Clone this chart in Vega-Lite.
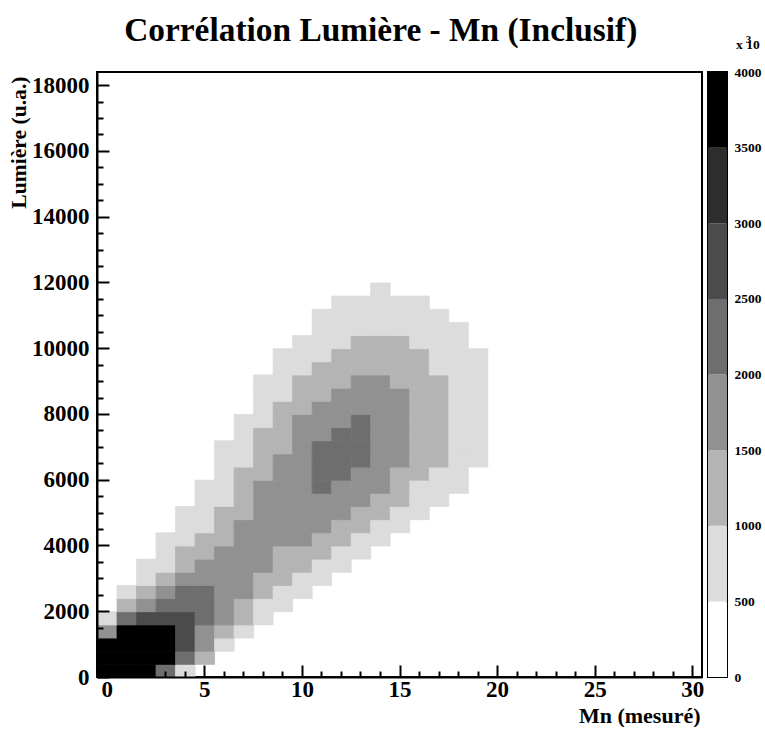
{"$schema":"https://vega.github.io/schema/vega-lite/v6.json","background":"white","padding":{"left":7,"top":13,"right":0,"bottom":0},
"title":{"text":"Corrélation Lumière - Mn (Inclusif)","font":"Liberation Serif","fontWeight":"bold","fontSize":33.4,"color":"black","anchor":"middle","dx":-4,"offset":-16},
"config":{"view":{"stroke":"black","strokeWidth":2},"font":"Liberation Serif"},
"datasets":{"cells":[
{"x":0,"y":200,"z":3750},{"x":1,"y":200,"z":3750},{"x":2,"y":200,"z":3750},{"x":3,"y":200,"z":2250},{"x":4,"y":200,"z":750},
{"x":0,"y":600,"z":3750},{"x":1,"y":600,"z":3750},{"x":2,"y":600,"z":3750},{"x":3,"y":600,"z":3750},{"x":4,"y":600,"z":2250},{"x":5,"y":600,"z":1250},
{"x":0,"y":1000,"z":3750},{"x":1,"y":1000,"z":3750},{"x":2,"y":1000,"z":3750},{"x":3,"y":1000,"z":3750},{"x":4,"y":1000,"z":2750},{"x":5,"y":1000,"z":1750},{"x":6,"y":1000,"z":750},
{"x":0,"y":1400,"z":1750},{"x":1,"y":1400,"z":3750},{"x":2,"y":1400,"z":3750},{"x":3,"y":1400,"z":3750},{"x":4,"y":1400,"z":2750},{"x":5,"y":1400,"z":1750},{"x":6,"y":1400,"z":1250},{"x":7,"y":1400,"z":750},
{"x":0,"y":1800,"z":750},{"x":1,"y":1800,"z":2250},{"x":2,"y":1800,"z":2750},{"x":3,"y":1800,"z":2750},{"x":4,"y":1800,"z":2750},{"x":5,"y":1800,"z":2250},{"x":6,"y":1800,"z":1750},{"x":7,"y":1800,"z":1250},{"x":8,"y":1800,"z":750},
{"x":1,"y":2200,"z":1250},{"x":2,"y":2200,"z":1750},{"x":3,"y":2200,"z":2250},{"x":4,"y":2200,"z":2250},{"x":5,"y":2200,"z":2250},{"x":6,"y":2200,"z":1750},{"x":7,"y":2200,"z":1250},{"x":8,"y":2200,"z":750},{"x":9,"y":2200,"z":750},
{"x":1,"y":2600,"z":750},{"x":2,"y":2600,"z":1250},{"x":3,"y":2600,"z":1750},{"x":4,"y":2600,"z":2250},{"x":5,"y":2600,"z":2250},{"x":6,"y":2600,"z":1750},{"x":7,"y":2600,"z":1750},{"x":8,"y":2600,"z":1250},{"x":9,"y":2600,"z":750},{"x":10,"y":2600,"z":750},
{"x":2,"y":3000,"z":750},{"x":3,"y":3000,"z":1250},{"x":4,"y":3000,"z":1750},{"x":5,"y":3000,"z":1750},{"x":6,"y":3000,"z":1750},{"x":7,"y":3000,"z":1750},{"x":8,"y":3000,"z":1250},{"x":9,"y":3000,"z":1250},{"x":10,"y":3000,"z":750},{"x":11,"y":3000,"z":750},
{"x":2,"y":3400,"z":750},{"x":3,"y":3400,"z":750},{"x":4,"y":3400,"z":1250},{"x":5,"y":3400,"z":1750},{"x":6,"y":3400,"z":1750},{"x":7,"y":3400,"z":1750},{"x":8,"y":3400,"z":1750},{"x":9,"y":3400,"z":1250},{"x":10,"y":3400,"z":1250},{"x":11,"y":3400,"z":750},{"x":12,"y":3400,"z":750},
{"x":3,"y":3800,"z":750},{"x":4,"y":3800,"z":1250},{"x":5,"y":3800,"z":1250},{"x":6,"y":3800,"z":1750},{"x":7,"y":3800,"z":1750},{"x":8,"y":3800,"z":1750},{"x":9,"y":3800,"z":1250},{"x":10,"y":3800,"z":1250},{"x":11,"y":3800,"z":1250},{"x":12,"y":3800,"z":750},{"x":13,"y":3800,"z":750},
{"x":3,"y":4200,"z":750},{"x":4,"y":4200,"z":750},{"x":5,"y":4200,"z":1250},{"x":6,"y":4200,"z":1250},{"x":7,"y":4200,"z":1750},{"x":8,"y":4200,"z":1750},{"x":9,"y":4200,"z":1750},{"x":10,"y":4200,"z":1750},{"x":11,"y":4200,"z":1250},{"x":12,"y":4200,"z":1250},{"x":13,"y":4200,"z":750},{"x":14,"y":4200,"z":750},
{"x":4,"y":4600,"z":750},{"x":5,"y":4600,"z":750},{"x":6,"y":4600,"z":1250},{"x":7,"y":4600,"z":1750},{"x":8,"y":4600,"z":1750},{"x":9,"y":4600,"z":1750},{"x":10,"y":4600,"z":1750},{"x":11,"y":4600,"z":1750},{"x":12,"y":4600,"z":1250},{"x":13,"y":4600,"z":1250},{"x":14,"y":4600,"z":750},{"x":15,"y":4600,"z":750},
{"x":4,"y":5000,"z":750},{"x":5,"y":5000,"z":750},{"x":6,"y":5000,"z":1250},{"x":7,"y":5000,"z":1250},{"x":8,"y":5000,"z":1750},{"x":9,"y":5000,"z":1750},{"x":10,"y":5000,"z":1750},{"x":11,"y":5000,"z":1750},{"x":12,"y":5000,"z":1750},{"x":13,"y":5000,"z":1250},{"x":14,"y":5000,"z":1250},{"x":15,"y":5000,"z":750},{"x":16,"y":5000,"z":750},
{"x":5,"y":5400,"z":750},{"x":6,"y":5400,"z":750},{"x":7,"y":5400,"z":1250},{"x":8,"y":5400,"z":1750},{"x":9,"y":5400,"z":1750},{"x":10,"y":5400,"z":1750},{"x":11,"y":5400,"z":1750},{"x":12,"y":5400,"z":1750},{"x":13,"y":5400,"z":1750},{"x":14,"y":5400,"z":1250},{"x":15,"y":5400,"z":1250},{"x":16,"y":5400,"z":750},{"x":17,"y":5400,"z":750},
{"x":5,"y":5800,"z":750},{"x":6,"y":5800,"z":750},{"x":7,"y":5800,"z":1250},{"x":8,"y":5800,"z":1750},{"x":9,"y":5800,"z":1750},{"x":10,"y":5800,"z":1750},{"x":11,"y":5800,"z":2250},{"x":12,"y":5800,"z":1750},{"x":13,"y":5800,"z":1750},{"x":14,"y":5800,"z":1750},{"x":15,"y":5800,"z":1250},{"x":16,"y":5800,"z":750},{"x":17,"y":5800,"z":750},{"x":18,"y":5800,"z":750},
{"x":6,"y":6200,"z":750},{"x":7,"y":6200,"z":1250},{"x":8,"y":6200,"z":1250},{"x":9,"y":6200,"z":1750},{"x":10,"y":6200,"z":1750},{"x":11,"y":6200,"z":2250},{"x":12,"y":6200,"z":2250},{"x":13,"y":6200,"z":1750},{"x":14,"y":6200,"z":1750},{"x":15,"y":6200,"z":1250},{"x":16,"y":6200,"z":1250},{"x":17,"y":6200,"z":750},{"x":18,"y":6200,"z":750},
{"x":6,"y":6600,"z":750},{"x":7,"y":6600,"z":750},{"x":8,"y":6600,"z":1250},{"x":9,"y":6600,"z":1750},{"x":10,"y":6600,"z":1750},{"x":11,"y":6600,"z":2250},{"x":12,"y":6600,"z":2250},{"x":13,"y":6600,"z":2250},{"x":14,"y":6600,"z":1750},{"x":15,"y":6600,"z":1750},{"x":16,"y":6600,"z":1250},{"x":17,"y":6600,"z":1250},{"x":18,"y":6600,"z":750},{"x":19,"y":6600,"z":750},
{"x":6,"y":7000,"z":750},{"x":7,"y":7000,"z":750},{"x":8,"y":7000,"z":1250},{"x":9,"y":7000,"z":1250},{"x":10,"y":7000,"z":1750},{"x":11,"y":7000,"z":2250},{"x":12,"y":7000,"z":2250},{"x":13,"y":7000,"z":2250},{"x":14,"y":7000,"z":1750},{"x":15,"y":7000,"z":1750},{"x":16,"y":7000,"z":1250},{"x":17,"y":7000,"z":1250},{"x":18,"y":7000,"z":750},{"x":19,"y":7000,"z":750},
{"x":7,"y":7400,"z":750},{"x":8,"y":7400,"z":1250},{"x":9,"y":7400,"z":1250},{"x":10,"y":7400,"z":1750},{"x":11,"y":7400,"z":1750},{"x":12,"y":7400,"z":2250},{"x":13,"y":7400,"z":2250},{"x":14,"y":7400,"z":1750},{"x":15,"y":7400,"z":1750},{"x":16,"y":7400,"z":1250},{"x":17,"y":7400,"z":1250},{"x":18,"y":7400,"z":750},{"x":19,"y":7400,"z":750},
{"x":7,"y":7800,"z":750},{"x":8,"y":7800,"z":750},{"x":9,"y":7800,"z":1250},{"x":10,"y":7800,"z":1750},{"x":11,"y":7800,"z":1750},{"x":12,"y":7800,"z":1750},{"x":13,"y":7800,"z":2250},{"x":14,"y":7800,"z":1750},{"x":15,"y":7800,"z":1750},{"x":16,"y":7800,"z":1250},{"x":17,"y":7800,"z":1250},{"x":18,"y":7800,"z":750},{"x":19,"y":7800,"z":750},
{"x":8,"y":8200,"z":750},{"x":9,"y":8200,"z":1250},{"x":10,"y":8200,"z":1250},{"x":11,"y":8200,"z":1750},{"x":12,"y":8200,"z":1750},{"x":13,"y":8200,"z":1750},{"x":14,"y":8200,"z":1750},{"x":15,"y":8200,"z":1750},{"x":16,"y":8200,"z":1250},{"x":17,"y":8200,"z":1250},{"x":18,"y":8200,"z":750},{"x":19,"y":8200,"z":750},
{"x":8,"y":8600,"z":750},{"x":9,"y":8600,"z":750},{"x":10,"y":8600,"z":1250},{"x":11,"y":8600,"z":1250},{"x":12,"y":8600,"z":1750},{"x":13,"y":8600,"z":1750},{"x":14,"y":8600,"z":1750},{"x":15,"y":8600,"z":1750},{"x":16,"y":8600,"z":1250},{"x":17,"y":8600,"z":1250},{"x":18,"y":8600,"z":750},{"x":19,"y":8600,"z":750},
{"x":8,"y":9000,"z":750},{"x":9,"y":9000,"z":750},{"x":10,"y":9000,"z":1250},{"x":11,"y":9000,"z":1250},{"x":12,"y":9000,"z":1250},{"x":13,"y":9000,"z":1750},{"x":14,"y":9000,"z":1750},{"x":15,"y":9000,"z":1250},{"x":16,"y":9000,"z":1250},{"x":17,"y":9000,"z":1250},{"x":18,"y":9000,"z":750},{"x":19,"y":9000,"z":750},
{"x":9,"y":9400,"z":750},{"x":10,"y":9400,"z":750},{"x":11,"y":9400,"z":1250},{"x":12,"y":9400,"z":1250},{"x":13,"y":9400,"z":1250},{"x":14,"y":9400,"z":1250},{"x":15,"y":9400,"z":1250},{"x":16,"y":9400,"z":1250},{"x":17,"y":9400,"z":750},{"x":18,"y":9400,"z":750},{"x":19,"y":9400,"z":750},
{"x":9,"y":9800,"z":750},{"x":10,"y":9800,"z":750},{"x":11,"y":9800,"z":750},{"x":12,"y":9800,"z":1250},{"x":13,"y":9800,"z":1250},{"x":14,"y":9800,"z":1250},{"x":15,"y":9800,"z":1250},{"x":16,"y":9800,"z":1250},{"x":17,"y":9800,"z":750},{"x":18,"y":9800,"z":750},{"x":19,"y":9800,"z":750},
{"x":10,"y":10200,"z":750},{"x":11,"y":10200,"z":750},{"x":12,"y":10200,"z":750},{"x":13,"y":10200,"z":1250},{"x":14,"y":10200,"z":1250},{"x":15,"y":10200,"z":1250},{"x":16,"y":10200,"z":750},{"x":17,"y":10200,"z":750},{"x":18,"y":10200,"z":750},
{"x":11,"y":10600,"z":750},{"x":12,"y":10600,"z":750},{"x":13,"y":10600,"z":750},{"x":14,"y":10600,"z":750},{"x":15,"y":10600,"z":750},{"x":16,"y":10600,"z":750},{"x":17,"y":10600,"z":750},{"x":18,"y":10600,"z":750},
{"x":11,"y":11000,"z":750},{"x":12,"y":11000,"z":750},{"x":13,"y":11000,"z":750},{"x":14,"y":11000,"z":750},{"x":15,"y":11000,"z":750},{"x":16,"y":11000,"z":750},{"x":17,"y":11000,"z":750},
{"x":12,"y":11400,"z":750},{"x":13,"y":11400,"z":750},{"x":14,"y":11400,"z":750},{"x":15,"y":11400,"z":750},{"x":16,"y":11400,"z":750},
{"x":14,"y":11800,"z":750}
]},
"hconcat":[
{"width":605,"height":605,
"layer":[
{"data":{"name":"cells"},"mark":{"type":"rect","binSpacing":0,"strokeWidth":0.8,"opacity":1},
"encoding":{
"x":{"field":"x","type":"quantitative","bin":{"step":1,"extent":[-0.5,30.5],"nice":false},"scale":{"domain":[-0.5,30.5],"nice":false,"zero":false},
"axis":{"orient":"bottom","values":[1,2,3,4,6,7,8,9,11,12,13,14,16,17,18,19,21,22,23,24,26,27,28,29],"tickSize":-6,"tickWidth":2,"tickColor":"black","labels":false,"title":null,"grid":false,"domain":false,"zindex":1}},
"y":{"field":"y","type":"quantitative","bin":{"step":400,"extent":[0,18400],"nice":false},"scale":{"domain":[0,18400],"nice":false,"zero":false},
"axis":{"orient":"left","values":[500,1000,1500,2500,3000,3500,4500,5000,5500,6500,7000,7500,8500,9000,9500,10500,11000,11500,12500,13000,13500,14500,15000,15500,16500,17000,17500],"tickSize":-6,"tickWidth":2,"tickColor":"black","labels":false,"title":null,"grid":false,"domain":false,"zindex":1}},
"color":{"field":"z","type":"quantitative","legend":null,"scale":{"type":"threshold","domain":[500,1000,1500,2000,2500,3000,3500],"range":["#ffffff","#dcdcdc","#b4b4b4","#919191","#6e6e6e","#4b4b4b","#2d2d2d","#000000"]}},
"stroke":{"field":"z","type":"quantitative","legend":null,"scale":{"type":"threshold","domain":[500,1000,1500,2000,2500,3000,3500],"range":["#ffffff","#dcdcdc","#b4b4b4","#919191","#6e6e6e","#4b4b4b","#2d2d2d","#000000"]}}
}},
{"data":{"name":"cells"},"mark":{"type":"rect","opacity":0,"binSpacing":0},
"encoding":{
"x":{"field":"x","type":"quantitative","bin":{"step":1,"extent":[-0.5,30.5],"nice":false},"scale":{"domain":[-0.5,30.5],"nice":false,"zero":false},
"axis":{"orient":"bottom","values":[0,5,10,15,20,25,30],"format":"d","tickSize":-12,"tickWidth":2,"tickColor":"black","labelFont":"Liberation Serif","labelFontWeight":"bold","labelFontSize":23,"labelColor":"black","labelPadding":13,"labelFlush":false,"labelOverlap":false,"title":"Mn (mesuré)","titleFont":"Liberation Serif","titleFontWeight":"bold","titleFontSize":22,"titleColor":"black","titleAnchor":"end","titleX":603,"titlePadding":4,"grid":false,"domain":true,"domainWidth":2,"domainColor":"black","zindex":1}},
"y":{"field":"y","type":"quantitative","bin":{"step":400,"extent":[0,18400],"nice":false},"scale":{"domain":[0,18400],"nice":false,"zero":false},
"axis":{"orient":"left","values":[0,2000,4000,6000,8000,10000,12000,14000,16000,18000],"format":"d","tickSize":-12,"tickWidth":2,"tickColor":"black","labelFont":"Liberation Serif","labelFontWeight":"bold","labelFontSize":23,"labelColor":"black","labelPadding":20,"labelFlush":false,"labelOverlap":false,"title":"Lumière (u.a.)","titleFont":"Liberation Serif","titleFontWeight":"bold","titleFontSize":21.6,"titleColor":"black","titleAnchor":"end","titleY":4,"titlePadding":1,"grid":false,"domain":true,"domainWidth":2,"domainColor":"black","zindex":1}}
}}
],
"resolve":{"axis":{"x":"independent","y":"independent"}}
},
{"width":19,"height":605,
"title":{"text":"x 10","font":"Liberation Serif","fontWeight":"bold","fontSize":13.5,"color":"black","anchor":"start","dx":28,"offset":-18},
"data":{"values":[{"a":0,"b":500,"z":250},{"a":500,"b":1000,"z":750},{"a":1000,"b":1500,"z":1250},{"a":1500,"b":2000,"z":1750},{"a":2000,"b":2500,"z":2250},{"a":2500,"b":3000,"z":2750},{"a":3000,"b":3500,"z":3250},{"a":3500,"b":4000,"z":3750}]},
"mark":{"type":"rect"},
"encoding":{
"y":{"field":"a","type":"quantitative","scale":{"domain":[0,4000],"nice":false},"axis":{"orient":"right","values":[0,500,1000,1500,2000,2500,3000,3500,4000],"format":"d","ticks":false,"domain":false,"grid":false,"labelFont":"Liberation Serif","labelFontWeight":"bold","labelFontSize":13.5,"labelColor":"black","labelPadding":7,"labelFlush":false,"labelOverlap":false,"title":"3","titleAngle":0,"titleX":21,"titleY":-30,"titleAlign":"center","titleBaseline":"alphabetic","titleFont":"Liberation Serif","titleFontWeight":"bold","titleFontSize":11,"titleColor":"black"}},
"y2":{"field":"b"},
"color":{"field":"z","type":"quantitative","legend":null,"scale":{"type":"threshold","domain":[500,1000,1500,2000,2500,3000,3500],"range":["#ffffff","#dcdcdc","#b4b4b4","#919191","#6e6e6e","#4b4b4b","#2d2d2d","#000000"]}}
}
}
],
"spacing":2,
"resolve":{"scale":{"color":"shared"}}
}
